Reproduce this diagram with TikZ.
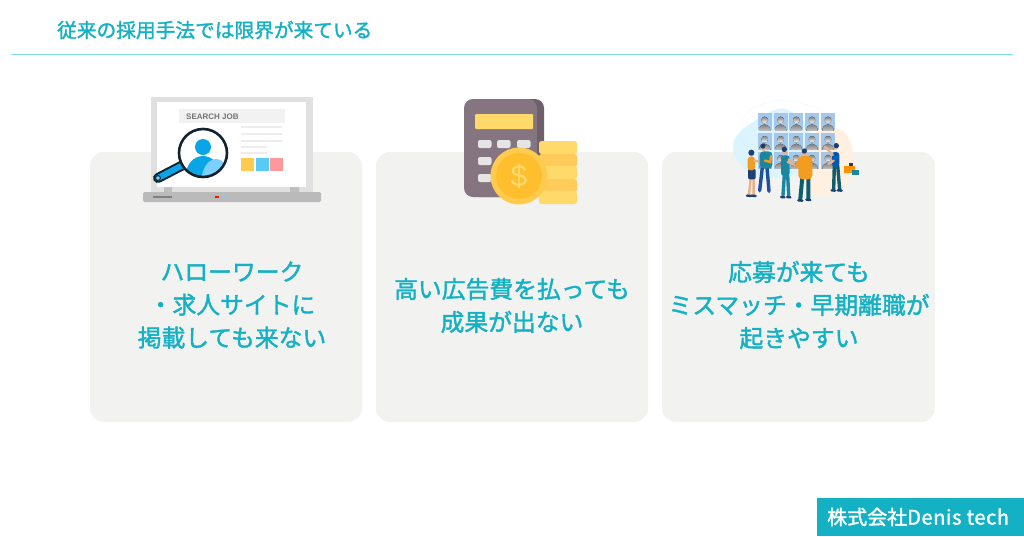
\documentclass[tikz,border=0pt]{standalone}
\usepackage{fontspec}
\setmainfont{Noto Sans CJK JP}[FakeBold=1.6]
\setsansfont{Liberation Sans}
\definecolor{teal1}{HTML}{14B1C4}
\definecolor{rule1}{HTML}{7FE0E8}
\definecolor{card}{HTML}{F2F2F1}
\definecolor{skin}{HTML}{E9B08C}
\definecolor{navy}{HTML}{1E3F73}
\definecolor{jeans}{HTML}{1F4F9E}
\definecolor{orange1}{HTML}{F39C22}
\definecolor{sea}{HTML}{1C86A0}
\definecolor{pine}{HTML}{0F5E6E}
\definecolor{cell}{HTML}{A3C8EC}
\definecolor{shade}{HTML}{6A8EB8}
\definecolor{ink}{HTML}{12222E}
\definecolor{sky}{HTML}{0AA5E6}
\definecolor{pale}{HTML}{7BD0FF}
\definecolor{calc}{HTML}{857580}
\definecolor{calcdark}{HTML}{6E5F6B}
\definecolor{gold}{HTML}{FFDA6B}
\definecolor{coinrim}{HTML}{FFCB4E}
\definecolor{coinface}{HTML}{FFBE2E}

\begin{document}
\begin{tikzpicture}[
	x=1pt,y=-1pt,
	card/.style={fill=card,rounded corners=14pt},
	cardtext/.style={text=teal1,align=center,font=\fontsize{23.8}{33}\selectfont},
	coinbar/.style={rounded corners=2.5pt},
	limb/.style={line width=2.4pt,line cap=round},
	leg/.style={line width=3.4pt,line cap=round}
	]
	\useasboundingbox (0,0) rectangle (1024,536);
	\fill[white] (0,0) rectangle (1024,536);
	% header
	\node [anchor=west,inner sep=0,text=teal1,font=\fontsize{19.7}{24}\selectfont] (title) at (57,30) {従来の採用手法では限界が来ている};
	\coordinate (ruleL) at (11,54);
	\coordinate (ruleR) at (1013,54);
	\draw[rule1,line width=1pt] (ruleL) -- (ruleR);
	% cards
	\fill[card] (90,152) rectangle (362,422);
	\fill[card] (376,152) rectangle (648,422);
	\fill[card] (662,152) rectangle (935,422);
	\node [cardtext] (textA) at (232,305) {ハローワーク\\・求人サイトに\\掲載しても来ない};
	\node [cardtext] (textB) at (512,305.5) {高い広告費を払っても\\成果が出ない};
	\node [cardtext] (textC) at (799,305) {応募が来ても\\ミスマッチ・早期離職が\\起きやすい};
	% laptop
	\fill[black!12] (151,97) rectangle (313,192);
	\fill[white] (157,102) rectangle (306,187);
	\fill[black!5] (179,109) rectangle (285,123);
	\node [anchor=west,inner sep=0,text=black!55,font=\sffamily\bfseries\fontsize{8}{8}\selectfont] (search) at (186,116.5) {SEARCH JOB};
	\foreach \y in {127,134,141} \fill[black!7] (241,\y-1) rectangle (282,\y+1);
	\foreach \y in {147,153} \fill[black!7] (241,\y-1) rectangle (267,\y+1);
	\fill[coinrim] (241,158) rectangle (254,171);
	\fill[cyan!65] (256,158) rectangle (269,171);
	\fill[red!40] (270,158) rectangle (283,171);
	\fill[black!25] (164,187) rectangle (172,192) (290,187) rectangle (299,192);
	\fill[black!27,rounded corners=1.5pt] (143,192) rectangle (321,202);
	\fill[black!50] (153,196) rectangle (172,198);
	\fill[red!85!orange] (215,196) rectangle (219,198);
	\fill[pale] (222,196) rectangle (225,198);
	% lens
	\draw[ink,line width=10pt,line cap=round] (183,165) -- (158,178);
	\draw[sky,line width=6pt,line cap=round] (183,165) -- (158,178);
	\draw[ink,fill=pale,line width=1pt] (158,178) circle (2.4);
	\fill[white] (203,153) circle (24);
	\begin{scope}
		\clip (203,153) circle (24);
		\fill[sky] (203,175) ellipse (17 and 19);
		\fill[pale] (216,184) ellipse (15 and 25);
	\end{scope}
	\fill[sky] (203,147) circle (8);
	\draw[ink,line width=2.6pt] (203,153) circle (24);
	% calculator
	\fill[calcdark,rounded corners=9pt] (470,99) rectangle (544,197);
	\fill[calc,rounded corners=9pt] (464,99) rectangle (537,197);
	\fill[gold,rounded corners=1pt] (475,114) rectangle (533,129);
	\foreach \x in {478,497,517} \foreach \y in {140,157,174}
		\fill[black!10,rounded corners=2pt] (\x,\y) rectangle +(13.5,8);
	\foreach \y/\c in {141/FFDA6B,154/FFCC5C,166/FFDA6B,179/FFCC5C,191/FFDA6B} {
		\definecolor{bar}{HTML}{\c}
		\fill[bar,coinbar] (539,\y) rectangle (577,\y+13);
	}
	\fill[coinrim] (519,176) circle (28.5);
	\fill[coinface] (519,176) circle (23);
	\node [inner sep=0,text=gold,font=\sffamily\fontsize{30}{30}\selectfont] (dollar) at (519,176) {\$};
	% meeting
	\begin{scope}[shift={(725,90)},x=0.3333pt,y=-0.3333pt]
		\fill[cyan!14] plot[smooth cycle] coordinates {(28,150) (70,105) (170,55) (250,110) (260,200) (200,260) (80,250) (30,200)};
		\fill[orange!12] plot[smooth cycle] coordinates {(270,130) (350,120) (385,190) (365,280) (290,320) (240,280) (250,190)};
		\draw[cyan!25,densely dotted] plot[smooth cycle] coordinates {(75,60) (170,30) (290,60) (330,110) (250,150) (70,170) (50,110)};
		\foreach \x in {98,146,193,240,288} \foreach \y in {70,128,185} {
			\fill[cell] (\x,\y) rectangle +(42,51);
			\begin{scope}
				\clip (\x,\y) rectangle +(42,51);
				\fill[shade] (\x+21,\y+51) ellipse (17 and 18);
				\fill[shade] (\x+21,\y+20) circle (10);
			\end{scope}
		}
		% people
		\draw[skin,limb] (77,265) -- (72,314) (86,265) -- (86,314);
		\draw[navy,limb] (66,317) -- (78,318) (80,317) -- (92,318);
		\fill[navy,rounded corners=2pt] (69,236) rectangle (92,268);
		\fill[orange1,rounded corners=3pt] (68,200) rectangle (90,241);
		\draw[skin,limb] (88,212) -- (108,215);
		\fill[skin] (80,192) circle (8);
		\fill[navy] (79,188) circle (9);
		\draw[jeans,leg] (126,232) -- (132,304) (112,232) -- (104,302);
		\fill[sea,rounded corners=4pt] (104,184) rectangle (142,236);
		\draw[orange1,limb] (138,198) -- (136,216) -- (120,212);
		\fill[skin] (116,174) circle (9);
		\fill[navy] (114,168) circle (8);
		\draw[sea,leg] (178,255) -- (174,316) (188,255) -- (191,316);
		\draw[navy,limb] (168,321) -- (178,322) (186,321) -- (196,322);
		\fill[sea,rounded corners=3pt] (168,196) rectangle (194,258);
		\draw[skin,limb] (192,208) -- (205,222) -- (188,216);
		\fill[skin] (179,184) circle (8);
		\fill[navy] (178,178) circle (8);
		\draw[pine,leg,line width=4pt] (232,262) -- (226,326) (250,262) -- (250,324);
		\draw[navy,limb] (220,331) -- (232,332) (244,329) -- (256,330);
		\fill[orange1,rounded corners=4pt] (220,198) rectangle (262,268);
		\draw[orange1,limb,line width=3.4pt] (226,205) -- (214,230);
		\fill[skin] (238,190) circle (8);
		\fill[navy] (238,183) circle (8);
		\draw[pine,leg] (328,226) -- (326,298) (338,226) -- (344,298);
		\draw[navy,limb] (320,301) -- (330,302) (338,301) -- (350,302);
		\fill[blue!50!cyan!70!black,rounded corners=3pt] (321,186) rectangle (343,230);
		\draw[skin,limb] (323,195) -- (300,170) (326,212) -- (310,222);
		\fill[skin] (332,172) circle (7);
		\fill[navy] (334,167) circle (8);
		% boxes
		\fill[navy] (372,218) rectangle (385,229);
		\fill[orange!85!yellow] (357,227) rectangle (390,250);
		\fill[sea] (382,240) rectangle (403,255);
	\end{scope}
	% footer
	\fill[teal1] (817,498) rectangle (1024,536);
	\node [anchor=west,inner sep=0,text=white,font=\fontsize{20}{24}\selectfont] (brand) at (827,517) {株式会社{\addfontfeature{LetterSpace=3}Denis tech}};
\end{tikzpicture}
\end{document}
